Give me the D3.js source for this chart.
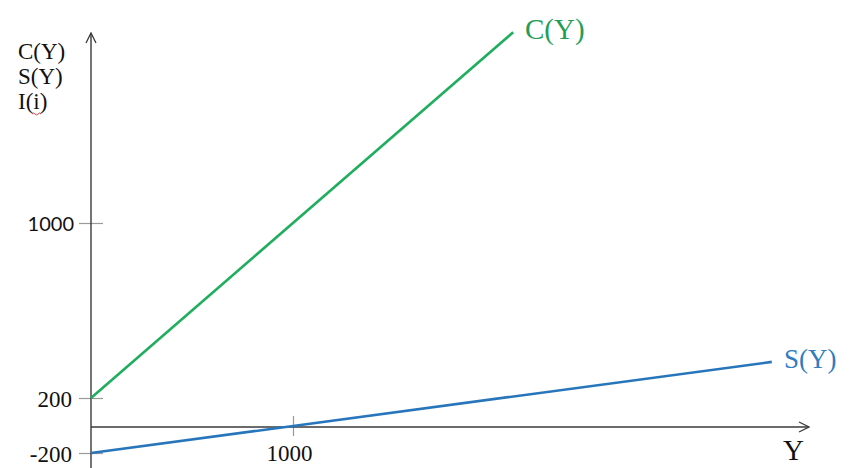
<!DOCTYPE html>
<html><head><meta charset="utf-8">
<script src="https://cdn.jsdelivr.net/npm/d3@7"></script>
<style>html,body{margin:0;padding:0;background:#fff;}svg{display:block;}</style>
</head><body><svg id="c" width="858" height="468"></svg>
<script>
// Data
const yTickValues = [-200, 200, 1000];
const yTickLabels = ["-200", "200", "1000"];
const xTickValues = [1000];
const xTickLabels = ["1000"];
const consumptionY = [0, 2090];
const consumptionV = [200, 1872];
const savingY = [0, 3370];
const savingV = [-200, 365];
const axisLabelsLeft = ["C(Y)", "S(Y)", "I(i)"];

const svg = d3.select("#c");
const x = d3.scaleLinear().domain([0, 1000]).range([91, 293]);
// hand-drawn sketch: uneven vertical spacing between labelled values
const y = d3.scaleLinear().domain([-200, 0, 200, 1000]).range([453, 427, 398, 223]);

const serif = "'Liberation Serif','Times New Roman',serif";
const axisCol = "#3a3a3a";
const green = "#1fae5e", greenTxt = "#1f9e58";
const blue = "#2775bb", blueTxt = "#2f7cc0";

const defs = svg.append("defs");
defs.append("marker").attr("id","arr").attr("viewBox","0 0 12 12").attr("refX",11).attr("refY",6)
  .attr("markerWidth",12).attr("markerHeight",12).attr("markerUnits","userSpaceOnUse").attr("orient","auto")
  .append("path").attr("d","M1,1 L11,6 L1,11").attr("fill","none").attr("stroke",axisCol).attr("stroke-width",1.3);

// y axis ticks via d3 axis
const yAxis = d3.axisLeft(y).tickValues(yTickValues).tickSize(0).tickFormat("");
const gy = svg.append("g").attr("transform","translate(91,0)").call(yAxis);
gy.select(".domain").remove();
gy.selectAll(".tick").append("line").attr("x1",-12).attr("x2",12).attr("stroke","#9a9a9a").attr("stroke-width",1.2);
gy.selectAll(".tick").append("text")
  .attr("x", (d)=> d===1000 ? -17 : -19).attr("dy","0.35em")
  .attr("text-anchor","end").attr("fill","#111")
  .style("font-family",(d)=> d===1000 ? "Lato,'Open Sans',sans-serif" : serif)
  .style("font-size",(d)=> d===1000 ? "20px" : "23px")
  .text((d,i)=>yTickLabels[i]);

const xAxis = d3.axisBottom(x).tickValues(xTickValues).tickSize(0).tickFormat("");
const gx = svg.append("g").attr("transform","translate(0,"+y(0)+")").call(xAxis);
gx.select(".domain").remove();
gx.selectAll(".tick").append("line").attr("y1",-11).attr("y2",9).attr("stroke","#9a9a9a").attr("stroke-width",1.2);
gx.selectAll(".tick").append("text").attr("y",34).attr("dx",-4).attr("text-anchor","middle").attr("fill","#111")
  .style("font-family",serif).style("font-size","23px").text((d,i)=>xTickLabels[i]);

// axes lines
svg.append("line").attr("x1",91).attr("x2",91).attr("y1",468).attr("y2",33)
  .attr("stroke",axisCol).attr("stroke-width",1.4).attr("marker-end","url(#arr)");
svg.append("line").attr("x1",91).attr("x2",809).attr("y1",y(0)).attr("y2",y(0))
  .attr("stroke",axisCol).attr("stroke-width",1.4).attr("marker-end","url(#arr)");

// lines
const line = d3.line().x(d=>x(d[0])).y(d=>y(d[1]));
svg.append("path").datum(consumptionY.map((v,i)=>[v,consumptionV[i]])).attr("d",line)
  .attr("fill","none").attr("stroke",green).attr("stroke-width",2.6);
svg.append("path").datum(savingY.map((v,i)=>[v,savingV[i]])).attr("d",line)
  .attr("fill","none").attr("stroke",blue).attr("stroke-width",2.6);

// line labels
svg.append("text").attr("x",525).attr("y",39).attr("fill",greenTxt)
  .style("font-family",serif).style("font-size","29px").text("C(Y)");
svg.append("text").attr("x",784).attr("y",368).attr("fill",blueTxt)
  .style("font-family",serif).style("font-size","27px").text("S(Y)");
svg.append("text").attr("x",783).attr("y",460).attr("fill","#111")
  .style("font-family",serif).style("font-size","29px").text("Y");

// left axis labels
axisLabelsLeft.forEach((t,i)=>{
  svg.append("text").attr("x",18).attr("y",59+i*25).attr("fill","#111")
    .style("font-family",serif).style("font-size","23px").text(t);
});
// spell-check squiggle under "i"
svg.append("path").attr("d","M32,114 q1.5,-2 3,0 t3,0 t3,0").attr("fill","none").attr("stroke","#d03030").attr("stroke-width",0.9);
</script></body></html>
